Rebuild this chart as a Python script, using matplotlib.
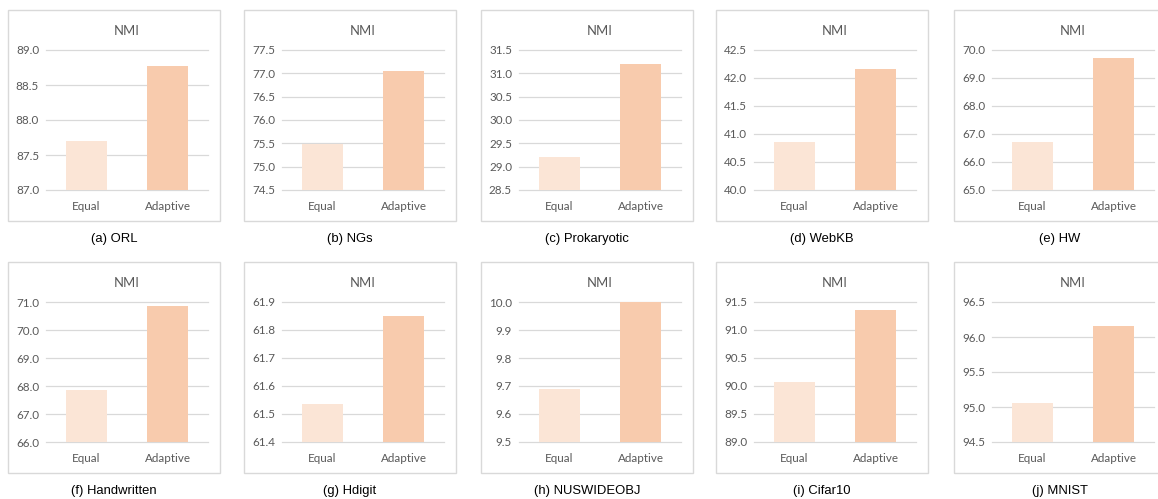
import numpy as np
import matplotlib.pyplot as plt
from matplotlib.patches import Rectangle

# NMI per dataset, equal vs adaptive weighting
datasets = ["ORL", "NGs", "Prokaryotic", "WebKB", "HW",
            "Handwritten", "Hdigit", "NUSWIDEOBJ", "Cifar10", "MNIST"]
letters = ["a", "b", "c", "d", "e", "f", "g", "h", "i", "j"]
methods = ["Equal", "Adaptive"]
nmi_equal = [87.70, 75.49, 29.21, 40.86, 66.72, 67.87, 61.537, 9.69, 90.08, 95.06]
nmi_adaptive = [88.77, 77.06, 31.21, 42.16, 69.73, 70.87, 61.851, 9.999, 91.35, 96.16]
y_low = [87.0, 74.5, 28.5, 40.0, 65.0, 66.0, 61.4, 9.5, 89.0, 94.5]
y_high = [89.0, 77.5, 31.5, 42.5, 70.0, 71.0, 61.9, 10.0, 91.5, 96.5]
y_step = [0.5, 0.5, 0.5, 0.5, 1.0, 1.0, 0.1, 0.1, 0.5, 0.5]

W, H = 1158, 499
fig = plt.figure(figsize=(W / 100, H / 100), dpi=100)

gray = "#595959"
grid = "#d9d9d9"
colors = ["#fbe5d6", "#f8cbad"]

box_left = [8, 244, 481, 716, 954]
box_top = [10, 262]
box_w, box_h = 212, 211

for k, name in enumerate(datasets):
    r, c = divmod(k, 5)
    bx, by = box_left[c], box_top[r]

    # frame around each chart
    fig.patches.append(Rectangle((bx / W, 1 - (by + box_h) / H), box_w / W, box_h / H,
                                 transform=fig.transFigure, fill=False,
                                 edgecolor=grid, linewidth=1.0))

    ax = fig.add_axes([(bx + 38) / W, 1 - (by + box_h - 31) / H, 162 / W, 140 / H])
    ax.bar(np.arange(2), [nmi_equal[k], nmi_adaptive[k]], width=0.5,
           color=colors, zorder=3)
    ax.set_xlim(-0.5, 1.5)
    ax.set_ylim(y_low[k], y_high[k])
    ticks = np.arange(y_low[k], y_high[k] + y_step[k] / 2, y_step[k])
    ax.set_yticks(ticks)
    ax.set_yticklabels([f"{t:.1f}" for t in ticks])
    ax.set_xticks(np.arange(2))
    ax.set_xticklabels(methods)
    for s in ax.spines.values():
        s.set_visible(False)
    ax.grid(axis="y", color=grid, linewidth=0.9, zorder=0)
    for gl in ax.get_ygridlines():
        gl.set_clip_on(False)
    ax.set_axisbelow(True)
    ax.tick_params(axis="both", length=0, colors=gray, labelsize=8.4)
    ax.tick_params(axis="y", pad=5)
    ax.tick_params(axis="x", pad=8)
    for lab in ax.get_xticklabels() + ax.get_yticklabels():
        lab.set_fontfamily("Lato")
    ax.set_title("NMI", fontsize=9.4, color=gray, family="Lato", pad=11)

    fig.text((bx + box_w / 2) / W, 1 - (by + box_h + 18) / H,
             f"({letters[k]}) {name}", ha="center", va="center",
             fontsize=9.4, family="Liberation Sans", color="black")

fig.savefig("out.png", dpi=100)
